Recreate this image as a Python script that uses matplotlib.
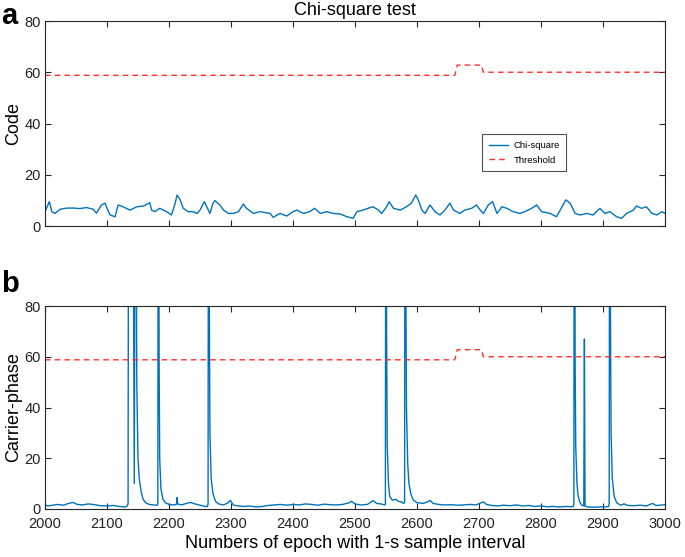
import matplotlib
matplotlib.use("Agg")
import matplotlib.pyplot as plt

plt.rcParams['font.family'] = ['Liberation Sans', 'DejaVu Sans']

# ---- data ----
chi_epochs = [2000, 2007, 2011, 2016, 2024, 2035, 2046, 2056, 2067, 2078, 2083, 2091, 2097, 2099,
              2105, 2113, 2118, 2126, 2137, 2148, 2159, 2169, 2172, 2177, 2185, 2196, 2204, 2210,
              2213, 2218, 2223, 2231, 2239, 2245, 2250, 2257, 2261, 2266, 2271, 2274, 2282, 2288,
              2296, 2304, 2312, 2320, 2325, 2336, 2347, 2363, 2368, 2379, 2390, 2400, 2406, 2417,
              2427, 2435, 2444, 2454, 2465, 2476, 2487, 2497, 2503, 2513, 2521, 2529, 2538, 2543,
              2551, 2555, 2562, 2573, 2583, 2591, 2598, 2602, 2608, 2613, 2621, 2629, 2637, 2645,
              2653, 2659, 2669, 2677, 2688, 2696, 2702, 2707, 2715, 2722, 2729, 2737, 2745, 2755,
              2766, 2774, 2785, 2793, 2801, 2815, 2825, 2831, 2840, 2847, 2855, 2863, 2874, 2884,
              2895, 2903, 2911, 2922, 2930, 2938, 2949, 2954, 2962, 2970, 2979, 2987, 2995, 3000]
chi_vals = [5.6, 9.5, 5.6, 4.9, 6.5, 7.0, 7.0, 6.8, 7.2, 6.5, 5.0, 8.2, 8.9, 7.5,
            4.3, 3.6, 8.2, 7.5, 6.2, 7.5, 7.8, 9.1, 6.2, 5.6, 6.9, 5.6, 4.3, 8.9,
            12.1, 10.2, 6.9, 5.6, 5.6, 4.9, 6.2, 9.5, 7.5, 4.9, 8.9, 9.9, 8.2, 6.2,
            4.9, 4.9, 5.6, 8.6, 6.9, 4.9, 5.6, 4.9, 3.4, 4.9, 3.9, 5.6, 6.2, 4.9,
            5.6, 6.9, 4.9, 5.6, 4.9, 4.7, 3.6, 3.0, 5.6, 6.2, 6.9, 7.5, 6.2, 4.9,
            7.5, 9.5, 6.9, 6.2, 7.5, 8.9, 12.1, 10.2, 6.2, 4.9, 8.2, 5.6, 4.3, 6.2,
            8.9, 6.2, 4.9, 6.2, 6.9, 8.2, 6.2, 4.9, 8.2, 9.5, 4.9, 7.5, 6.9, 5.6,
            4.9, 5.6, 6.9, 8.2, 5.6, 4.9, 3.6, 6.2, 10.2, 8.9, 4.9, 4.3, 4.9, 4.3,
            6.9, 4.9, 5.6, 3.6, 3.0, 4.9, 6.2, 7.8, 6.9, 7.5, 4.9, 4.3, 5.6, 4.9]

cp_epochs = [2000, 2005, 2012, 2020, 2030, 2038, 2045, 2052, 2060, 2070, 2080, 2090, 2100, 2110,
             2120, 2128, 2132, 2134, 2135, 2141, 2144, 2146, 2148, 2150, 2152, 2155, 2158, 2162,
             2168, 2175, 2181, 2182, 2183, 2184, 2185, 2187, 2190, 2194, 2200, 2207, 2212, 2213,
             2214, 2220, 2228, 2234, 2242, 2250, 2258, 2262, 2263, 2264, 2265, 2266, 2268, 2271,
             2275, 2280, 2288, 2295, 2299, 2304, 2312, 2320, 2330, 2340, 2350, 2360, 2370, 2380,
             2390, 2400, 2410, 2420, 2430, 2440, 2450, 2460, 2470, 2480, 2490, 2494, 2500, 2510,
             2520, 2529, 2535, 2542, 2548, 2549, 2550, 2551, 2552, 2554, 2556, 2560, 2566, 2570,
             2575, 2578, 2580, 2581, 2582, 2583, 2585, 2587, 2590, 2594, 2600, 2610, 2617, 2621,
             2626, 2635, 2645, 2655, 2665, 2675, 2685, 2695, 2703, 2707, 2712, 2720, 2730, 2740,
             2750, 2760, 2770, 2780, 2790, 2800, 2810, 2820, 2830, 2840, 2848, 2852, 2853, 2854,
             2855, 2856, 2858, 2860, 2863, 2866, 2869, 2870, 2871, 2875, 2885, 2895, 2905, 2909,
             2910, 2911, 2912, 2913, 2915, 2918, 2922, 2928, 2934, 2940, 2950, 2960, 2970, 2980,
             2985, 2992, 3000]
cp_vals = [1.6, 1.2, 1.5, 1.8, 1.5, 2.2, 2.6, 1.8, 1.6, 2.0, 1.7, 1.3, 1.2, 1.4,
           1.0, 0.8, 1.0, 2.0, 200, 200, 10, 200, 50, 20, 12, 7, 4, 2.5,
           1.8, 1.6, 1.5, 2.0, 250, 60, 20, 8, 4, 2.5, 1.8, 1.6, 1.8, 4.5,
           2.0, 1.6, 2.2, 2.6, 2.0, 1.5, 1.0, 1.0, 2.0, 250, 80, 30, 12, 6,
           3.0, 2.0, 1.6, 2.4, 3.4, 1.5, 1.2, 1.0, 1.2, 0.8, 1.0, 1.4, 1.6, 1.8,
           1.5, 1.8, 1.6, 2.0, 1.8, 1.5, 1.9, 1.7, 1.6, 1.8, 2.4, 3.0, 2.0, 1.6,
           1.8, 3.3, 2.2, 2.0, 1.6, 2.0, 250, 70, 25, 10, 5, 3.5, 3.8, 3.0,
           2.8, 2.2, 2.5, 250, 90, 40, 18, 10, 6, 3.5, 2.5, 2.2, 2.8, 3.4,
           2.2, 1.8, 1.6, 1.7, 1.5, 1.6, 1.8, 1.6, 2.4, 2.8, 1.8, 1.4, 1.2, 1.5,
           1.3, 1.6, 1.2, 1.4, 1.0, 1.2, 0.9, 1.0, 0.8, 1.0, 0.9, 1.0, 2.0, 250,
           60, 25, 10, 5, 2.5, 1.5, 1.2, 67, 1.2, 0.8, 0.7, 0.8, 0.9, 1.0,
           2.0, 250, 80, 30, 12, 5, 2.5, 1.5, 2.0, 1.4, 1.3, 1.5, 1.2, 2.2,
           1.4, 1.5, 1.7]

thr_epochs = [2000, 2661, 2665, 2704, 2707, 3000]
thr_vals = [58.8, 58.8, 62.8, 62.8, 60.0, 60.0]

xticks = [2000, 2100, 2200, 2300, 2400, 2500, 2600, 2700, 2800, 2900, 3000]
yticks = [0, 20, 40, 60, 80]

BLUE = '#0072BD'
RED = '#FF3030'
AX = '#262626'

fig = plt.figure(figsize=(6.85, 5.57), dpi=100)
ax1 = fig.add_axes([45/685, 1-226/557, 620/685, 205/557])
ax2 = fig.add_axes([45/685, 1-509/557, 620/685, 203/557])

def style(ax):
    ax.set_xlim(2000, 3000)
    ax.set_ylim(0, 80)
    ax.set_xticks(xticks)
    ax.set_yticks(yticks)
    ax.tick_params(direction='in', top=True, right=True, length=4, width=0.8,
                   colors=AX, labelsize=10.5, labelcolor='#222222', pad=3)
    ax.tick_params(axis='x', pad=6)
    for s in ax.spines.values():
        s.set_color(AX)
        s.set_linewidth(0.8)

ax1.plot(chi_epochs, chi_vals, color=BLUE, lw=1.0, label='Chi-square')
ax1.plot(thr_epochs, thr_vals, color=RED, lw=1.0, ls=(0, (4, 3)), label='Threshold')
style(ax1)
ax1.tick_params(labelbottom=False)
ax1.set_ylabel('Code', fontsize=13, labelpad=2)
ax1.set_title('Chi-square test', fontsize=13, pad=4)
leg = ax1.legend(loc='upper left', bbox_to_anchor=(0.705, 0.447), fontsize=6.8,
                 frameon=True, fancybox=False, edgecolor='#262626', borderpad=0.7,
                 handlelength=2.0, handletextpad=0.6, labelspacing=0.6, borderaxespad=0)
leg.get_frame().set_linewidth(0.8)

ax2.plot(cp_epochs, cp_vals, color=BLUE, lw=1.0)
ax2.plot(thr_epochs, thr_vals, color=RED, lw=1.0, ls=(0, (4, 3)))
style(ax2)
ax2.set_ylabel('Carrier-phase', fontsize=13, labelpad=2)
ax2.set_xlabel('Numbers of epoch with 1-s sample interval', fontsize=13, labelpad=3)

fig.text(0.002, 1-24/557, 'a', fontsize=21, fontweight='bold', va='baseline', ha='left')
fig.text(0.002, 1-292/557, 'b', fontsize=21, fontweight='bold', va='baseline', ha='left')

fig.savefig('out.png', dpi=100)
